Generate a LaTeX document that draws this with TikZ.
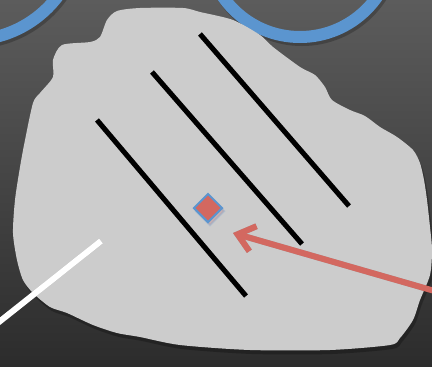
\documentclass[tikz,border=0pt]{standalone}
\usetikzlibrary{arrows.meta,shapes.geometric}
\definecolor{bgtop}{RGB}{92,92,92}
\definecolor{bgbot}{RGB}{44,44,44}
\definecolor{ringblue}{RGB}{91,149,207}
\definecolor{blobgray}{RGB}{204,204,204}
\definecolor{markred}{RGB}{211,104,96}
\begin{document}
\begin{tikzpicture}[x=1pt,y=-1pt,
  ring/.style={draw=ringblue,line width=12pt},
  bar/.style={draw=black,line width=5pt},
  shadowed/.style={draw=black,opacity=.22,shift={(2,3)}},
  marker/.style={diamond,draw=ringblue,fill=markred,line width=2pt,minimum size=29pt,inner sep=0pt},
  pointer/.style={draw=markred,line width=6pt,-{Straight Barb[length=16pt,width=26pt]}},
  wline/.style={draw=white,line width=6pt}]
\useasboundingbox (0,0) rectangle (432,367);
\shade[top color=bgtop,bottom color=bgbot] (0,0) rectangle (432,367);
\begin{scope}
\clip (0,0) rectangle (432,367);
% ring shadows and rings
\draw[shadowed,line width=12pt] (-30,-70) circle[radius=110];
\draw[shadowed,line width=12pt] (300,-57) circle[radius=94];
\draw[ring] (-30,-70) circle[radius=110];
\draw[ring] (300,-57) circle[radius=94];
% blob
\def\blobpath{plot[smooth cycle,tension=0.45] coordinates{
 (107,20)(117,11)(140,8)(183,8)(200,12)(233,20)(260,35)(273,47)(300,67)(315,75)(325,87)(332,100)
 (350,110)(365,116)(380,127)(397,137)(413,150)(420,163)(424,180)(427,200)(430,227)(432,250)
 (430,275)(420,300)(413,320)(400,338)(390,345)(330,350)(250,350)(180,345)(140,337)(117,333)
 (93,325)(67,313)(50,307)(33,293)(23,280)(17,260)(13,233)(15,200)(20,167)(25,140)(33,103)
 (40,93)(53,77)(53,60)(62,45)(90,42)(100,37)}}
\fill[black,opacity=.25,shift={(2,4)}] \blobpath;
\fill[blobgray] \blobpath;
% bars
\coordinate (a1) at (97,120); \coordinate (a2) at (246,296);
\coordinate (b1) at (152,72); \coordinate (b2) at (302,244);
\coordinate (c1) at (200,34); \coordinate (c2) at (349,206);
\draw[shadowed,line width=5pt] (a1) -- (a2);
\draw[shadowed,line width=5pt] (b1) -- (b2);
\draw[shadowed,line width=5pt] (c1) -- (c2);
\draw[bar] (a1) -- (a2);
\draw[bar] (b1) -- (b2);
\draw[bar] (c1) -- (c2);
% marker
\node[marker,opacity=.25] at (210,211) {};
\node[marker] (d) at (208,208) {};
% pointer
\coordinate (ps) at (445,294);
\coordinate (pt) at (233,233);
\draw[pointer,draw=black,opacity=.2,shift={(2,3)}] (ps) -- (pt);
\draw[pointer] (ps) -- (pt);
% white line
\coordinate (w1) at (101,241);
\coordinate (w2) at (-6,326);
\draw[wline,draw=black,opacity=.2,shift={(2,3)}] (w1) -- (w2);
\draw[wline] (w1) -- (w2);
\end{scope}
\end{tikzpicture}
\end{document}
